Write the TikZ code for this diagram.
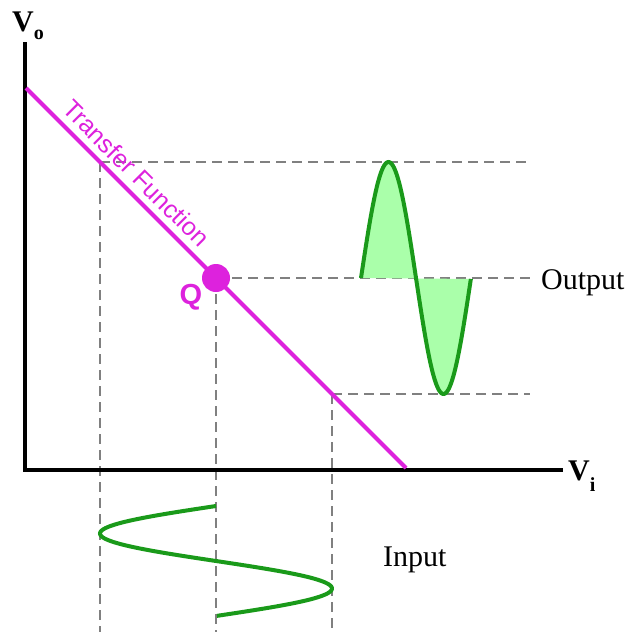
\documentclass[tikz,border=0pt]{standalone}
\usepackage{fontspec}
\setmainfont{Liberation Serif}
\setsansfont{Liberation Sans}
\definecolor{mag}{HTML}{DD22DD}
\definecolor{grn}{HTML}{1A9A1A}
\definecolor{lgrn}{HTML}{AAFFAA}
\definecolor{dgray}{HTML}{808080}
\tikzset{
  axisline/.style={line width=4pt, line join=miter, black},
  guide/.style={dgray, line width=2.2pt, dash pattern=on 10pt off 6pt},
  wave/.style={grn, line width=4pt},
  tf/.style={mag, line width=4pt},
  lbl/.style={font=\fontsize{30}{36}\selectfont, inner sep=0pt}
}
\begin{document}
\begin{tikzpicture}[x=1pt,y=-1pt]
\useasboundingbox (0,0) rectangle (628,632);
% coordinates
\coordinate (otop) at (25,42);
\coordinate (orig) at (25,470);
\coordinate (xend) at (563,470);
\coordinate (tfa) at (26,88);
\coordinate (tfb) at (406,468);
\coordinate (Q) at (216,278);
\coordinate (P1) at (100,162);
\coordinate (P2) at (332,394);
\coordinate (H1) at (530,162);
\coordinate (H0) at (530,278);
\coordinate (H2) at (530,394);
\coordinate (B1) at (100,632);
\coordinate (B0) at (216,632);
\coordinate (B2) at (332,632);
% guides
\draw[guide] (P1) -- (H1);
\draw[guide] (Q) -- (H0);
\draw[guide] (P2) -- (H2);
\draw[guide] (P1) -- (B1);
\draw[guide] (Q) -- (B0);
\draw[guide] (P2) -- (B2);
% output wave
\fill[lgrn] plot[domain=0:1,samples=120] ({361+110*\x},{278-116*sin(360*\x)}) -- cycle;
\draw[wave] plot[domain=0:1,samples=120] ({361+110*\x},{278-116*sin(360*\x)});
% input wave
\draw[wave] plot[domain=0:1,samples=120] ({216-116*sin(360*\x)},{506+110*\x});
% axes
\draw[axisline] (otop) -- (orig) -- (xend);
% transfer function
\draw[tf] (tfa) -- (tfb);
\node[circle, fill=mag, minimum size=28pt, inner sep=0pt] (qdot) at (Q) {};
\node[mag, font=\fontsize{29}{34}\sffamily\bfseries\selectfont, inner sep=0pt] (qlbl) at (191,297) {Q};
\node[mag, font=\fontsize{25}{30}\sffamily\selectfont, inner sep=0pt, anchor=base, rotate=-45] (tflbl) at (130,179.5) {Transfer Function};
% labels
\node[lbl, anchor=base west] (vo) at (12,31) {\bfseries V\raisebox{-8pt}{\fontsize{20}{20}\selectfont o}};
\node[lbl, anchor=base west] (vi) at (568,480) {\bfseries V\raisebox{-11pt}{\fontsize{20}{20}\selectfont i}};
\node[lbl, anchor=base west] (out) at (541,289) {Output};
\node[lbl, anchor=base west] (in) at (383,566) {Input};
\end{tikzpicture}
\end{document}
